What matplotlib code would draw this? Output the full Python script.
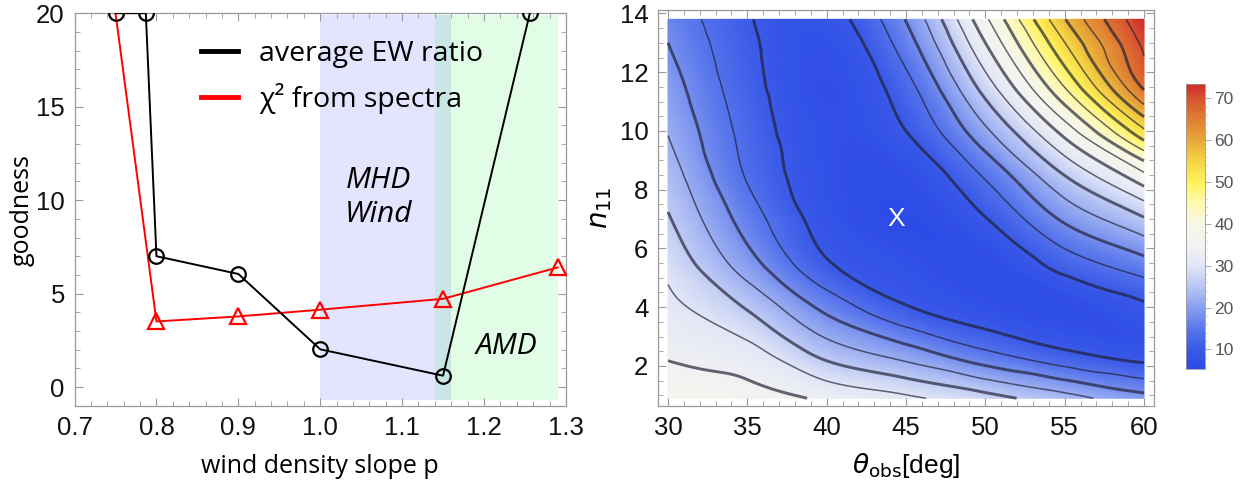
import numpy as np
import matplotlib
matplotlib.use("Agg")
import matplotlib.pyplot as plt
import matplotlib.tri as mtri
from matplotlib.colors import LinearSegmentedColormap, Normalize
from matplotlib.cm import ScalarMappable
from matplotlib.lines import Line2D
from matplotlib.ticker import MultipleLocator, FormatStrFormatter

plt.rcParams['font.family'] = ['Liberation Sans', 'DejaVu Sans']

# ---- left panel: goodness vs wind density slope ----
p_ew = [0.75, 0.787, 0.80, 0.90, 1.00, 1.15, 1.256]
ew_ratio = [20, 20, 7.0, 6.05, 2.02, 0.61, 20]
p_chi = [0.75, 0.80, 0.90, 1.00, 1.15, 1.29]
chi2 = [20, 3.51, 3.78, 4.14, 4.72, 6.40]
mhd_p = [1.0, 1.16]
amd_p = [1.14, 1.29]
band_y = [-0.68, 19.9]

# ---- right panel: goodness map over (theta_obs, n11) ----
theta = [30, 35, 40, 45, 50, 55, 60]
n11 = [0.9, 2.5, 4.0, 5.5, 7.0, 8.5, 10.0, 11.5, 13.0, 13.8]
goodness = [
    [37.2, 35.6, 33.2, 30.8, 27.6, 23.6, 19.4],
    [33.3, 31.3, 24.2, 19.6, 14.3, 10.3,  8.0],
    [31.1, 25.6, 16.8, 10.3,  7.2,  6.2,  9.4],
    [28.9, 19.7, 10.4,  7.3,  6.0, 11.9, 16.7],
    [26.4, 16.2,  8.2,  5.4,  9.8, 18.7, 25.6],
    [24.1, 13.6,  7.4,  6.6, 14.6, 26.1, 37.2],
    [21.8, 12.6,  7.0, 10.0, 21.2, 35.6, 53.3],
    [19.9, 11.6,  6.6, 12.6, 27.8, 46.1, 66.7],
    [18.0, 10.9,  7.2, 16.2, 34.0, 53.9, 71.0],
    [17.0, 10.4,  8.3, 18.2, 37.2, 57.8, 73.4],
]
best_fit = (44.4, 7.0)
g_min, g_max = 5.3, 73.4
contour_levels = list(range(10, 71, 4))

temp_colors = [
    (5.3, '#2d4be6'), (10, '#3a5ae8'), (15, '#5b78ec'), (20, '#8aa0f0'),
    (25, '#b8c5f4'), (30, '#e2e6f6'), (35, '#f2f3f2'), (40, '#f7f7e6'),
    (45, '#fdf9b0'), (50, '#fff35a'), (55, '#f5d444'), (60, '#e8a838'),
    (65, '#e08033'), (70, '#d85230'), (73.4, '#d02a2a'),
]
cmap = LinearSegmentedColormap.from_list(
    'temperature',
    [((v - g_min) / (g_max - g_min), c) for v, c in temp_colors])

frame_gray = '#9a9a9a'
text_font = ['Open Sans', 'DejaVu Sans']


def style_axes(ax):
    for s in ax.spines.values():
        s.set_color(frame_gray)
        s.set_linewidth(0.9)
    ax.tick_params(which='both', direction='in', top=True, right=True,
                   color=frame_gray, labelsize=18.5, labelcolor='#111111')
    ax.tick_params(which='major', length=6, width=0.8, pad=7)
    ax.tick_params(which='minor', length=3.5, width=0.6)


fig = plt.figure(figsize=(12.47, 4.87), dpi=100)

# left panel
ax1 = fig.add_axes([0.0598, 0.166, 0.394, 0.807])
ax1.fill_between(mhd_p, band_y[0], band_y[1], color=(0, 0, 1), alpha=0.106,
                 linewidth=0, zorder=0)
ax1.fill_between(amd_p, band_y[0], band_y[1], color=(0, 0.94, 0.16), alpha=0.114,
                 linewidth=0, zorder=0)
ax1.plot(p_chi, chi2, color='red', lw=1.4, marker='^', ms=11,
         mfc='none', mec='red', mew=1.6, markevery=list(range(1, len(p_chi))),
         zorder=3)
ax1.plot(p_ew, ew_ratio, color='black', lw=1.4, marker='o', ms=10.5,
         mfc='none', mec='black', mew=1.6, zorder=4)
ax1.text(1.071, 10.15, "MHD\nWind", style='italic', fontsize=21.5,
         family=text_font, ha='center', va='center', linespacing=1.2)
ax1.text(1.227, 2.17, "AMD", style='italic', fontsize=21.5,
         family=text_font, ha='center', va='center')
handles = [Line2D([], [], color='black', lw=3.5),
           Line2D([], [], color='red', lw=3.5)]
ax1.legend(handles, ["average EW ratio", "χ² from spectra"],
           loc='upper left', bbox_to_anchor=(0.205, 0.998), frameon=False,
           prop={'family': text_font, 'size': 20.5}, handlelength=1.3,
           handletextpad=0.75, labelspacing=0.54)
ax1.set_xlim(0.7, 1.3)
ax1.set_ylim(-1.02, 20)
ax1.xaxis.set_major_locator(MultipleLocator(0.1))
ax1.xaxis.set_minor_locator(MultipleLocator(0.02))
ax1.xaxis.set_major_formatter(FormatStrFormatter('%.1f'))
ax1.yaxis.set_major_locator(MultipleLocator(5))
ax1.yaxis.set_minor_locator(MultipleLocator(1))
style_axes(ax1)
ax1.set_xlabel("wind density slope p", fontsize=18, family=text_font, labelpad=10)
ax1.set_ylabel("goodness", fontsize=18, family=text_font, labelpad=1)

# right panel: smooth the grid with the library's cubic refiner
T, N = np.meshgrid(theta, n11)
G = np.array(goodness)
ncols = len(theta)
tris = []
for j in range(len(n11) - 1):
    for i in range(ncols - 1):
        a = j * ncols + i
        tris.append([a, a + 1, a + ncols])
        tris.append([a + 1, a + ncols + 1, a + ncols])
tri_norm = mtri.Triangulation(T.ravel() / 5.0, N.ravel() / 1.5, tris)
refiner = mtri.UniformTriRefiner(tri_norm)
interp = mtri.CubicTriInterpolator(tri_norm, G.ravel(), kind='geom')
fine, g_fine = refiner.refine_field(G.ravel(), triinterpolator=interp, subdiv=4)
tri_fine = mtri.Triangulation(fine.x * 5.0, fine.y * 1.5, fine.triangles)

ax2 = fig.add_axes([0.5277, 0.166, 0.3977, 0.813])
ax2.tripcolor(tri_fine, g_fine, shading='gouraud', cmap=cmap,
              vmin=g_min, vmax=g_max, rasterized=True)
widths = [2.1 if k % 2 == 0 else 1.1 for k in range(len(contour_levels))]
ax2.tricontour(tri_fine, g_fine, levels=contour_levels, colors=[(0.12, 0.12, 0.2)],
               linewidths=widths, alpha=0.68)
ax2.text(best_fit[0], best_fit[1], "X", color='white', fontsize=19,
         ha='center', va='center')
ax2.set_xlim(29.37, 60.63)
ax2.set_ylim(0.63, 14.11)
ax2.xaxis.set_major_locator(MultipleLocator(5))
ax2.xaxis.set_minor_locator(MultipleLocator(1))
ax2.yaxis.set_major_locator(MultipleLocator(2))
ax2.yaxis.set_minor_locator(MultipleLocator(0.5))
style_axes(ax2)
ax2.set_xlabel(r"$\theta_{\rm obs}$[deg]", fontsize=19, labelpad=8)
ax2.set_ylabel(r"$n_{11}$", fontsize=20, labelpad=4)

# colour bar
cax = fig.add_axes([0.951, 0.2423, 0.0152, 0.585])
cb = fig.colorbar(ScalarMappable(norm=Normalize(g_min, g_max), cmap=cmap), cax=cax)
cb.set_ticks([10, 20, 30, 40, 50, 60, 70])
cb.ax.yaxis.set_minor_locator(MultipleLocator(2))
cb.outline.set_edgecolor(frame_gray)
cb.outline.set_linewidth(0.6)
cb.ax.tick_params(which='major', direction='out', length=4, width=0.6,
                  color=frame_gray, labelsize=12.5, labelcolor='#555555', pad=3)
cb.ax.tick_params(which='minor', direction='out', length=2, width=0.5,
                  color='#cccccc')

fig.savefig("out.png", dpi=100)
